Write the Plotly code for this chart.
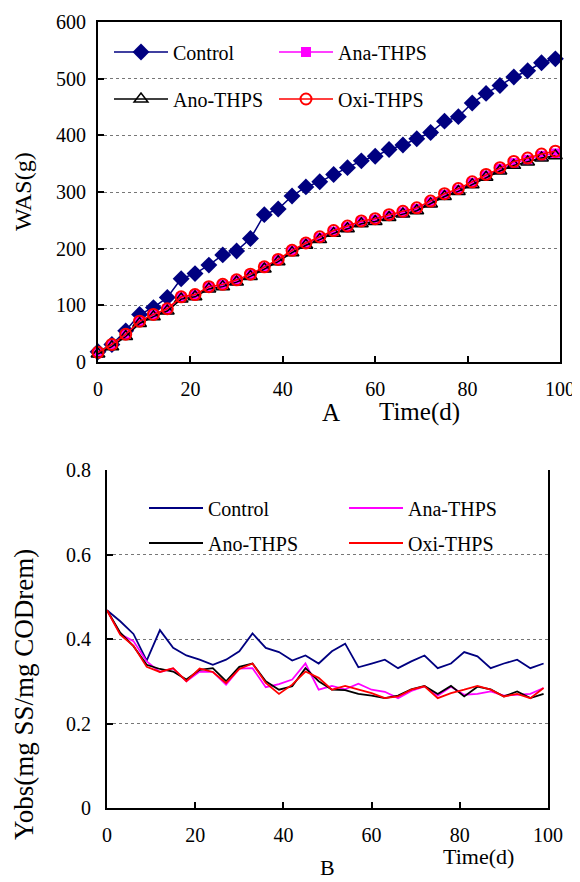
import plotly.graph_objects as go

# sampling days (every 3 days)
days = list(range(0, 100, 3))

# A: cumulative waste activated sludge, g
was_control = [18, 31, 55, 84, 96, 114, 147, 156, 171, 189, 196, 218, 260, 270, 293, 309, 318,
               331, 343, 355, 363, 375, 383, 394, 405, 425, 433, 457, 474, 488, 503, 514, 528, 535]
was_ana = [16, 30, 48, 71, 83, 93, 114, 118, 132, 136, 144, 154, 167, 180, 196, 209, 219,
           230, 238, 247, 251, 258, 264, 270, 282, 295, 304, 316, 329, 341, 351, 357, 364, 368]
was_ano = [14, 27, 45, 68, 80, 90, 111, 115, 129, 133, 141, 151, 164, 177, 193, 206, 216,
           227, 235, 244, 248, 255, 261, 267, 279, 292, 301, 313, 326, 337, 347, 353, 360, 364]
was_oxi = [17, 31, 49, 72, 84, 94, 115, 119, 133, 137, 145, 155, 168, 181, 197, 210, 221,
           232, 240, 249, 253, 260, 266, 272, 284, 297, 306, 318, 331, 343, 354, 360, 367, 372]

# B: observed yield, mg SS/mg COD removed
yobs_control = [0.468, 0.442, 0.412, 0.349, 0.421, 0.379, 0.361, 0.351, 0.339, 0.351, 0.371, 0.413,
                0.379, 0.369, 0.349, 0.361, 0.342, 0.371, 0.389, 0.333, 0.342, 0.351, 0.331, 0.347,
                0.361, 0.331, 0.342, 0.369, 0.359, 0.331, 0.342, 0.351, 0.331, 0.342]
yobs_ana = [0.468, 0.412, 0.395, 0.347, 0.322, 0.330, 0.300, 0.323, 0.322, 0.292, 0.330, 0.331,
            0.286, 0.293, 0.304, 0.342, 0.280, 0.289, 0.281, 0.294, 0.280, 0.275, 0.260, 0.277,
            0.288, 0.266, 0.287, 0.268, 0.270, 0.276, 0.266, 0.268, 0.270, 0.284]
yobs_ano = [0.468, 0.415, 0.383, 0.339, 0.329, 0.323, 0.304, 0.327, 0.331, 0.300, 0.334, 0.342,
            0.300, 0.280, 0.288, 0.331, 0.300, 0.280, 0.279, 0.270, 0.266, 0.260, 0.266, 0.281,
            0.289, 0.270, 0.289, 0.264, 0.287, 0.281, 0.264, 0.276, 0.260, 0.270]
yobs_oxi = [0.468, 0.410, 0.384, 0.334, 0.322, 0.331, 0.300, 0.330, 0.322, 0.296, 0.329, 0.342,
            0.296, 0.270, 0.292, 0.323, 0.308, 0.280, 0.289, 0.280, 0.272, 0.260, 0.264, 0.280,
            0.288, 0.260, 0.272, 0.280, 0.289, 0.280, 0.264, 0.270, 0.260, 0.284]

names = ['Control', 'Ana-THPS', 'Ano-THPS', 'Oxi-THPS']
colors = ['#000080', '#FF00FF', '#000000', '#FF0000']

# page has an 8px body margin, so the figure is 8px smaller and all positions shift by 8
OFF = 8
W, H = 580 - OFF, 882 - OFF
FONT = '"Liberation Serif", "Times New Roman", Times, serif'


def px(x):
    return (x - OFF) / W


def py(y):
    return 1 - (y - OFF) / H


fig = go.Figure()

# ---- top panel
symbols = [dict(symbol='diamond', size=13, color=colors[0]),
           dict(symbol='square', size=10, color=colors[1]),
           dict(symbol='triangle-up-open', size=12, color=colors[2], line=dict(width=1.5, color=colors[2])),
           dict(symbol='circle-open', size=11, color=colors[3], line=dict(width=2, color=colors[3]))]
top_series = [was_control, was_ana, was_ano, was_oxi]
for i in range(4):
    fig.add_trace(go.Scatter(
        x=days, y=top_series[i], name=names[i], mode='lines+markers',
        line=dict(color=colors[i], width=1.5), marker=symbols[i],
        cliponaxis=False, xaxis='x', yaxis='y',
        legend='legend' if i == 0 else f'legend{i + 1}',
    ))

# ---- bottom panel
bottom_series = [yobs_control, yobs_ana, yobs_ano, yobs_oxi]
for i in range(4):
    fig.add_trace(go.Scatter(
        x=days, y=bottom_series[i], name=names[i], mode='lines',
        line=dict(color=colors[i], width=1.8),
        xaxis='x2', yaxis='y2', legend=f'legend{i + 5}',
    ))

# legend placement (one legend per entry to get the 2x2 grid)
leg_pos = {
    'legend': (109, 52), 'legend2': (274, 52), 'legend3': (109, 99), 'legend4': (274, 99),
    'legend5': (144, 508), 'legend6': (344, 508), 'legend7': (144, 543), 'legend8': (344, 543),
}
legends = {}
for k, (lx, ly) in leg_pos.items():
    legends[k] = dict(x=px(lx), y=py(ly), xanchor='left', yanchor='middle',
                      bgcolor='rgba(0,0,0,0)', borderwidth=0, itemwidth=54,
                      font=dict(family=FONT, size=20, color='black'))

axis_common = dict(showline=True, linecolor='black', linewidth=2, ticks='inside', ticklen=6,
                   tickcolor='black', tickwidth=1.5, zeroline=False, automargin=False,
                   tickfont=dict(family=FONT, size=20, color='black'))
grid = dict(showgrid=True, gridcolor='#777777', griddash='dot', gridwidth=1)

fig.update_layout(
    width=W, height=H, margin=dict(l=0, r=0, t=0, b=0, autoexpand=False),
    font=dict(family=FONT, size=20, color='black'),
    paper_bgcolor='white', plot_bgcolor='white', showlegend=True,
    xaxis=dict(axis_common, domain=[px(98), px(560)], range=[0, 100], dtick=20, mirror=True,
               showgrid=False, anchor='y', ticklabelstandoff=8),
    yaxis=dict(axis_common, domain=[py(362), py(22)], range=[0, 600], dtick=100, mirror=True,
               showgrid=False, anchor='x', ticklabelstandoff=6,
               minor=dict(grid, tickvals=[100, 200, 300, 400, 500], ticks='')),
    xaxis2=dict(axis_common, domain=[px(107), px(548)], range=[0, 100], dtick=20,
                showgrid=False, anchor='y2', ticklabelstandoff=8),
    yaxis2=dict(axis_common, domain=[py(808), py(470)], range=[0, 0.8],
                tickvals=[0, 0.2, 0.4, 0.6, 0.8], ticktext=['0', '0.2', '0.4', '0.6', '0.8'],
                mirror=True, showgrid=False, anchor='x2', ticklabelstandoff=10,
                minor=dict(grid, tickvals=[0.2, 0.4, 0.6], ticks='')),
    **legends,
    annotations=[
        dict(text='WAS(g)', x=px(23), y=py(192), textangle=-90, font_size=24),
        dict(text='A', x=px(331), y=py(412), font_size=25),
        dict(text='Time(d)', x=px(419), y=py(412), font_size=25),
        dict(text='Yobs(mg SS/mg CODrem)', x=px(24), y=py(695), textangle=-90, font_size=27),
        dict(text='Time(d)', x=px(478), y=py(856), font_size=22),
        dict(text='B', x=px(327), y=py(867), font_size=22),
    ],
)
fig.update_annotations(xref='paper', yref='paper', showarrow=False,
                       xanchor='center', yanchor='middle',
                       font_family=FONT, font_color='black')

fig.write_html("out.html")
